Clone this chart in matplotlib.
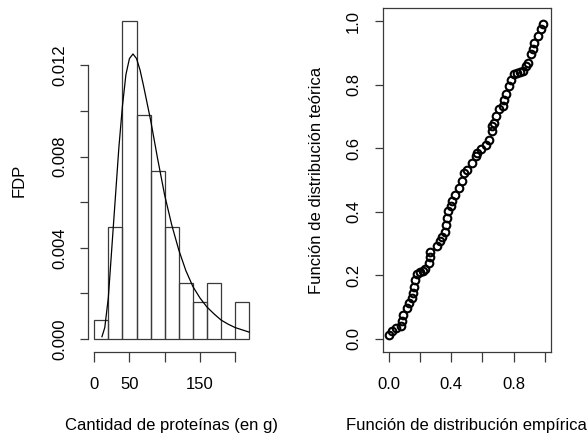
import numpy as np
import matplotlib
matplotlib.use('Agg')
import matplotlib.pyplot as plt

plt.rcParams['font.family'] = ['Liberation Sans', 'DejaVu Sans']

# histogram (61 observations, bins of 20 g)
bin_edges = [0, 20, 40, 60, 80, 100, 120, 140, 160, 180, 200, 220]
bin_counts = [1, 6, 17, 12, 9, 6, 3, 2, 3, 0, 2]

# fitted density
curve_x = [11, 15, 20, 25, 30, 35, 40, 45, 50, 55, 60, 65, 70, 80, 90, 100,
           110, 120, 130, 140, 150, 160, 170, 180, 190, 200, 210, 220]
curve_y = [0.0001, 0.0005, 0.0018, 0.0040, 0.0062, 0.0084, 0.0102, 0.0116,
           0.0123, 0.0125, 0.0123, 0.0118, 0.0111, 0.0096, 0.0079, 0.0063,
           0.0050, 0.0039, 0.0030, 0.0023, 0.0018, 0.0014, 0.0011, 0.00083,
           0.00065, 0.0005, 0.0004, 0.0003]

# P-P plot
emp = [0.000, 0.021, 0.045, 0.076, 0.082, 0.093, 0.114, 0.131, 0.147, 0.153,
       0.158, 0.168, 0.183, 0.200, 0.217, 0.233, 0.254, 0.261, 0.265, 0.308,
       0.330, 0.341, 0.362, 0.369, 0.373, 0.377, 0.399, 0.405, 0.427, 0.448,
       0.470, 0.481, 0.503, 0.535, 0.556, 0.567, 0.589, 0.621, 0.643, 0.664,
       0.664, 0.675, 0.686, 0.707, 0.729, 0.740, 0.750, 0.772, 0.783, 0.804,
       0.820, 0.840, 0.858, 0.880, 0.891, 0.912, 0.923, 0.934, 0.955, 0.977,
       0.988]
theo = [0.012, 0.026, 0.035, 0.042, 0.055, 0.076, 0.097, 0.112, 0.128, 0.144,
        0.163, 0.186, 0.205, 0.210, 0.215, 0.220, 0.240, 0.272, 0.257, 0.291,
        0.307, 0.320, 0.338, 0.359, 0.380, 0.401, 0.419, 0.433, 0.454, 0.475,
        0.496, 0.522, 0.533, 0.554, 0.575, 0.585, 0.596, 0.611, 0.627, 0.653,
        0.669, 0.680, 0.701, 0.722, 0.732, 0.753, 0.769, 0.795, 0.816, 0.832,
        0.835, 0.840, 0.842, 0.858, 0.869, 0.895, 0.911, 0.932, 0.953, 0.974,
        0.990]

line_col = '#3a3a3a'
fs = 12

fig = plt.figure(figsize=(5.87, 4.37), dpi=100)
W, H = 587, 437

def px_axes(x0, x1, y0, y1):
    return fig.add_axes([x0 / W, 1 - y1 / H, (x1 - x0) / W, (y1 - y0) / H])

# ---- left: histogram + density
ax1 = px_axes(88, 255.5, 8.6, 351.7)
n = sum(bin_counts)
width = np.diff(bin_edges)
dens = np.array(bin_counts) / (n * width)
ax1.bar(bin_edges[:-1], dens, width=width, align='edge', fill=False,
        edgecolor=line_col, linewidth=0.9)
ax1.plot(curve_x, curve_y, color='black', lw=0.9)
ax1.set_xlim(-8.8, 228.8)
ax1.set_ylim(-0.000557, 0.01449)
for s in ['top', 'right']:
    ax1.spines[s].set_visible(False)
ax1.spines['left'].set_bounds(0, 0.012)
ax1.spines['bottom'].set_bounds(0, 200)
for s in ['left', 'bottom']:
    ax1.spines[s].set_color(line_col)
    ax1.spines[s].set_linewidth(0.9)
ax1.set_xticks([0, 50, 100, 150, 200])
ax1.set_xticklabels(['0', '50', '', '150', ''])
ax1.set_yticks([0, 0.002, 0.004, 0.006, 0.008, 0.010, 0.012])
ax1.set_yticklabels(['0.000', '', '0.004', '', '0.008', '', '0.012'],
                    rotation=90, va='center')
ax1.tick_params(axis='x', length=7, width=0.9, color=line_col, pad=11, labelsize=fs)
ax1.tick_params(axis='y', length=5.5, width=0.9, color=line_col, pad=9, labelsize=fs)
ax1.set_ylabel('FDP', fontsize=fs, labelpad=19)
ax1.set_xlabel('Cantidad de proteínas (en g)', fontsize=fs, labelpad=19)

# ---- right: P-P plot
ax2 = px_axes(382.7, 551, 8.3, 351.7)
ax2.plot(emp, theo, linestyle='none', marker='o', markersize=5.5,
         markerfacecolor='none', markeredgecolor='black', markeredgewidth=1.5)
ax2.set_xlim(-0.04, 1.04)
ax2.set_ylim(-0.04, 1.04)
for s in ax2.spines.values():
    s.set_color(line_col)
    s.set_linewidth(0.9)
ax2.set_xticks([0, 0.2, 0.4, 0.6, 0.8, 1.0])
ax2.set_xticklabels(['0.0', '', '0.4', '', '0.8', ''])
ax2.set_yticks([0, 0.2, 0.4, 0.6, 0.8, 1.0])
ax2.set_yticklabels(['0.0', '0.2', '0.4', '0.6', '0.8', '1.0'],
                    rotation=90, va='center')
ax2.tick_params(axis='x', length=7, width=0.9, color=line_col, pad=11, labelsize=fs)
ax2.tick_params(axis='y', length=5.5, width=0.9, color=line_col, pad=10, labelsize=fs)
ax2.set_ylabel('Función de distribución teórica', fontsize=fs, labelpad=16)
ax2.set_xlabel('Función de distribución empírica', fontsize=fs, labelpad=19)

fig.savefig('out.png', dpi=100)
